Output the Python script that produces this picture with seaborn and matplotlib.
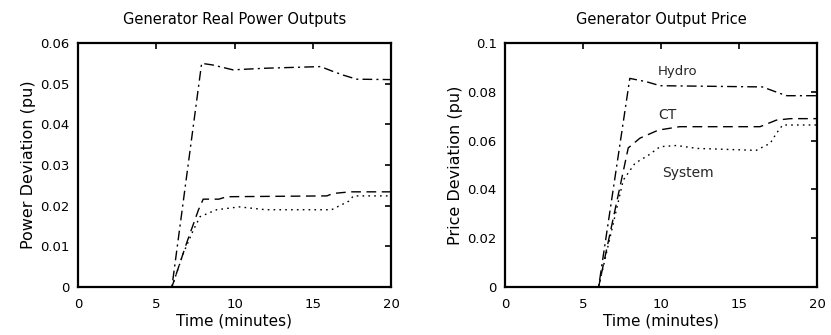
import matplotlib
matplotlib.use("Agg")
import matplotlib.pyplot as plt
import seaborn as sns
import pandas as pd

# ---- data ----
# Left panel: Generator Real Power Outputs
p_hydro_t = [0, 6, 7.9, 8.6, 9.9, 12, 15.5, 16.3, 16.95, 17.8, 20]
p_hydro_v = [0, 0, 0.055, 0.0546, 0.0534, 0.0538, 0.0542, 0.053, 0.0521, 0.0511, 0.0510]
p_ct_t = [0, 6, 6.94, 7.7, 8.0, 9.0, 9.5, 15.9, 16.3, 17.4, 20]
p_ct_v = [0, 0, 0.0108, 0.019, 0.0216, 0.0216, 0.0222, 0.0224, 0.023, 0.0234, 0.0234]
p_sys_t = [0, 6, 6.73, 7.37, 7.8, 8.86, 10.3, 12, 16.2, 17.3, 17.6, 20]
p_sys_v = [0, 0, 0.0083, 0.014, 0.0173, 0.019, 0.0197, 0.019, 0.019, 0.0211, 0.0224, 0.0224]

# Right panel: Generator Output Price
c_hydro_t = [0, 6, 8.0, 9.08, 9.94, 16.5, 17.6, 18.06, 20]
c_hydro_v = [0, 0, 0.0855, 0.0841, 0.0825, 0.0820, 0.0794, 0.0784, 0.0784]
c_ct_t = [0, 6, 7.9, 8.65, 9.83, 11.2, 16.35, 17.4, 18.3, 20]
c_ct_v = [0, 0, 0.057, 0.061, 0.0643, 0.0657, 0.0657, 0.0684, 0.069, 0.069]
c_sys_t = [0, 6, 7.58, 8.33, 9.19, 9.94, 11, 12.3, 16.1, 17.0, 17.4, 17.8, 20]
c_sys_v = [0, 0, 0.0438, 0.0507, 0.054, 0.0575, 0.058, 0.0568, 0.056, 0.0589, 0.063, 0.0664, 0.0664]

x_ticks = [0, 5, 10, 15, 20]
left_yticks = [0, 0.01, 0.02, 0.03, 0.04, 0.05, 0.06]
left_ylabels = ["0", "0.01", "0.02", "0.03", "0.04", "0.05", "0.06"]
right_yticks = [0, 0.02, 0.04, 0.06, 0.08, 0.1]
right_ylabels = ["0", "0.02", "0.04", "0.06", "0.08", "0.1"]

titles = ["Generator Real Power Outputs", "Generator Output Price"]
ylabels = ["Power Deviation (pu)", "Price Deviation (pu)"]
xlabel = "Time (minutes)"
labels = ["Hydro", "CT", "System"]

sns.set_style("white")
plt.rcParams["font.family"] = ["DejaVu Sans"]

fig = plt.figure(figsize=(8.31, 3.35), dpi=100)
ax1 = fig.add_axes([78 / 831, 48 / 335, 313 / 831, 244 / 335])
ax2 = fig.add_axes([505 / 831, 48 / 335, 312 / 831, 244 / 335])

styles = {"Hydro": (0, (7, 3, 1.5, 3)), "CT": (0, (7, 4)), "System": (0, (1.2, 3))}


def draw(ax, series, yticks, ylabs, ymax, title, ylabel):
    for name, t, v in series:
        df = pd.DataFrame({"t": t, "v": v})
        sns.lineplot(data=df, x="t", y="v", ax=ax, color="black", lw=1.0,
                     linestyle=styles[name], estimator=None, sort=False)
    ax.set_xlim(0, 20)
    ax.set_ylim(0, ymax)
    ax.set_xticks(x_ticks)
    ax.set_xticklabels([str(x) for x in x_ticks])
    ax.set_yticks(yticks)
    ax.set_yticklabels(ylabs)
    ax.tick_params(direction="in", top=True, right=True, length=4, width=1.2,
                   labelsize=9.5, color="black", labelcolor="black")
    ax.tick_params(axis="x", pad=8)
    ax.tick_params(axis="y", pad=6)
    for s in ax.spines.values():
        s.set_visible(True)
        s.set_color("black")
        s.set_linewidth(1.6)
    ax.set_title(title, fontsize=10.5, pad=14, color="black")
    ax.set_xlabel(xlabel, fontsize=11, labelpad=2, color="black")
    ax.set_ylabel(ylabel, fontsize=11.5, labelpad=3, color="black")


draw(ax1, [("Hydro", p_hydro_t, p_hydro_v), ("CT", p_ct_t, p_ct_v), ("System", p_sys_t, p_sys_v)],
     left_yticks, left_ylabels, 0.06, titles[0], ylabels[0])
draw(ax2, [("Hydro", c_hydro_t, c_hydro_v), ("CT", c_ct_t, c_ct_v), ("System", c_sys_t, c_sys_v)],
     right_yticks, right_ylabels, 0.1, titles[1], ylabels[1])

ax2.text(9.8, 0.0885, labels[0], fontsize=9.5, va="center", ha="left")
ax2.text(9.8, 0.0705, labels[1], fontsize=10, va="center", ha="left")
ax2.text(10.05, 0.0467, labels[2], fontsize=10, va="center", ha="left")

fig.savefig("out.png", dpi=100)
